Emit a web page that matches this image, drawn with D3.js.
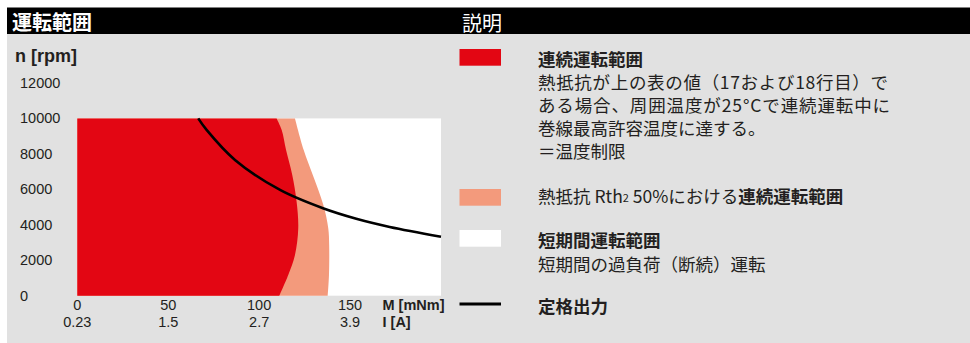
<!DOCTYPE html>
<html>
<head>
<meta charset="utf-8">
<script src="https://cdn.jsdelivr.net/npm/d3@7"></script>
<style>
  body { margin: 0; background: #fff; }
  svg { display: block; font-family: "Liberation Sans", "Noto Sans CJK JP", sans-serif; }
  .jp { font-family: "Noto Sans CJK JP", sans-serif; }
</style>
</head>
<body>
<div id="chart"></div>
<script>
// values (M in mNm, n in rpm)
var yTicks = [0, 2000, 4000, 6000, 8000, 10000, 12000];
var xTicks = [0, 50, 100, 150];
var currentLabels = ['0.23', '1.5', '2.7', '3.9'];

// continuous operation boundary (red)
var redN = [0, 1170, 2300, 3800, 5300, 6810, 8220, 9350, 10000];
var redM = [111.1, 116, 119.7, 121.5, 120.6, 118.2, 114.8, 112.4, 109.6];

// continuous operation with Rth2 50% (salmon)
var salmonN = [0, 1170, 2860, 3800, 5120, 6810, 8220, 10000];
var salmonM = [137.7, 138.4, 138.5, 138, 135.3, 129.5, 124.5, 119.7];

// rated output line
var ratedM = [66.5, 71.1, 86.7, 111.5, 135.1, 153.4, 171.8, 200];
var ratedN = [10000, 9351, 7658, 5965, 4932, 4340, 3880, 3330];

var width = 970, height = 343;
var textColor = '#231f20';

var svg = d3.select('#chart').append('svg')
  .attr('width', width)
  .attr('height', height);

// panel background and header bar
svg.append('rect').attr('x', 7).attr('y', 34).attr('width', width - 7).attr('height', height - 34).attr('fill', '#e1e1e1');
svg.append('rect').attr('x', 7).attr('y', 7.5).attr('width', width - 7).attr('height', 26.5).attr('fill', '#000');
svg.append('text').attr('class', 'jp').attr('x', 12).attr('y', 21).attr('dominant-baseline', 'central')
  .attr('fill', '#fff').attr('font-size', 20).attr('font-weight', 'bold').text('運転範囲');
svg.append('text').attr('class', 'jp').attr('x', 462).attr('y', 22).attr('dominant-baseline', 'central')
  .attr('fill', '#fff').attr('font-size', 20).text('説明');

// scales
var x = d3.scaleLinear().domain([0, 200]).range([77.3, 441]);
var y = d3.scaleLinear().domain([0, 10000]).range([295.7, 118.4]);

var plot = svg.append('g');

// short term operation area (white)
plot.append('rect')
  .attr('x', x(0)).attr('y', y(10000))
  .attr('width', x(200) - x(0)).attr('height', y(0) - y(10000))
  .attr('fill', '#fff');

var salmon = salmonN.map(function (n, i) { return { n: n, m: salmonM[i] }; });
var red = redN.map(function (n, i) { return { n: n, m: redM[i] }; });
var rated = ratedM.map(function (m, i) { return { m: m, n: ratedN[i] }; });

var area = d3.area()
  .y(function (d) { return y(d.n); })
  .x0(x(0))
  .x1(function (d) { return x(d.m); })
  .curve(d3.curveCatmullRom.alpha(0.5));

plot.append('path').datum(salmon).attr('d', area).attr('fill', '#f39a7c');
plot.append('path').datum(red).attr('d', area).attr('fill', '#e30613');

var line = d3.line()
  .x(function (d) { return x(d.m); })
  .y(function (d) { return y(d.n); })
  .curve(d3.curveCatmullRom.alpha(0.5));

plot.append('path').datum(rated).attr('d', line)
  .attr('fill', 'none').attr('stroke', '#000').attr('stroke-width', 2.6);

// axis labels
svg.append('text').attr('x', 15).attr('y', 62).attr('font-size', 18).attr('font-weight', 'bold')
  .attr('fill', textColor).text('n [rpm]');

svg.selectAll('.ytick').data(yTicks).enter().append('text')
  .attr('class', 'ytick')
  .attr('x', 20).attr('y', function (d) { return y(d); })
  .attr('dominant-baseline', 'central')
  .attr('font-size', 14.5).attr('fill', textColor)
  .text(function (d) { return d; });

svg.selectAll('.xtick').data(xTicks).enter().append('text')
  .attr('class', 'xtick')
  .attr('x', function (d) { return x(d); }).attr('y', 304.5)
  .attr('dominant-baseline', 'central').attr('text-anchor', 'middle')
  .attr('font-size', 14.5).attr('fill', textColor)
  .text(function (d) { return d; });

svg.selectAll('.itick').data(xTicks).enter().append('text')
  .attr('class', 'itick')
  .attr('x', function (d) { return x(d); }).attr('y', 322)
  .attr('dominant-baseline', 'central').attr('text-anchor', 'middle')
  .attr('font-size', 14.5).attr('fill', textColor)
  .text(function (d, i) { return currentLabels[i]; });

svg.append('text').attr('x', 382.5).attr('y', 304.5).attr('dominant-baseline', 'central')
  .attr('font-size', 14.5).attr('font-weight', 'bold').attr('fill', textColor).text('M [mNm]');
svg.append('text').attr('x', 382.5).attr('y', 322).attr('dominant-baseline', 'central')
  .attr('font-size', 14.5).attr('font-weight', 'bold').attr('fill', textColor).text('I [A]');

// legend
var lx = 459.5, tx = 538;
svg.append('rect').attr('x', lx).attr('y', 49).attr('width', 41.5).attr('height', 16.7).attr('fill', '#e30613');
svg.append('rect').attr('x', lx).attr('y', 189).attr('width', 41.5).attr('height', 16.7).attr('fill', '#f39a7c');
svg.append('rect').attr('x', lx).attr('y', 230).attr('width', 41.5).attr('height', 16.7).attr('fill', '#fff');
svg.append('line').attr('x1', lx).attr('x2', lx + 41.5).attr('y1', 304).attr('y2', 304)
  .attr('stroke', '#000').attr('stroke-width', 3);

function legendLine(yy, parts) {
  var t = svg.append('text').attr('class', 'jp').attr('x', tx).attr('y', yy)
    .attr('dominant-baseline', 'central').attr('font-size', 17.5).attr('fill', textColor);
  parts.forEach(function (p) {
    var s = t.append('tspan').text(p.t);
    if (p.b) s.attr('font-weight', 'bold');
    if (p.sub) s.attr('font-size', 11).attr('dy', 2);
    if (p.up) s.attr('dy', -2);
  });
  return t;
}

legendLine(58, [{ t: '連続運転範囲', b: true }]);
legendLine(81, [{ t: '熱抵抗が上の表の値（17および18行目）で' }]).attr('textLength', 350);
legendLine(104, [{ t: 'ある場合、周囲温度が25°Cで連続運転中に' }]).attr('textLength', 352);
legendLine(127, [{ t: '巻線最高許容温度に達する。' }]);
legendLine(150, [{ t: '＝温度制限' }]);
legendLine(195, [{ t: '熱抵抗 Rth' }, { t: '2', sub: true }, { t: ' 50%における', up: true }, { t: '連続運転範囲', b: true }]);
legendLine(239, [{ t: '短期間運転範囲', b: true }]);
legendLine(263, [{ t: '短期間の過負荷（断続）運転' }]);
legendLine(305, [{ t: '定格出力', b: true }]);
</script>
</body>
</html>
